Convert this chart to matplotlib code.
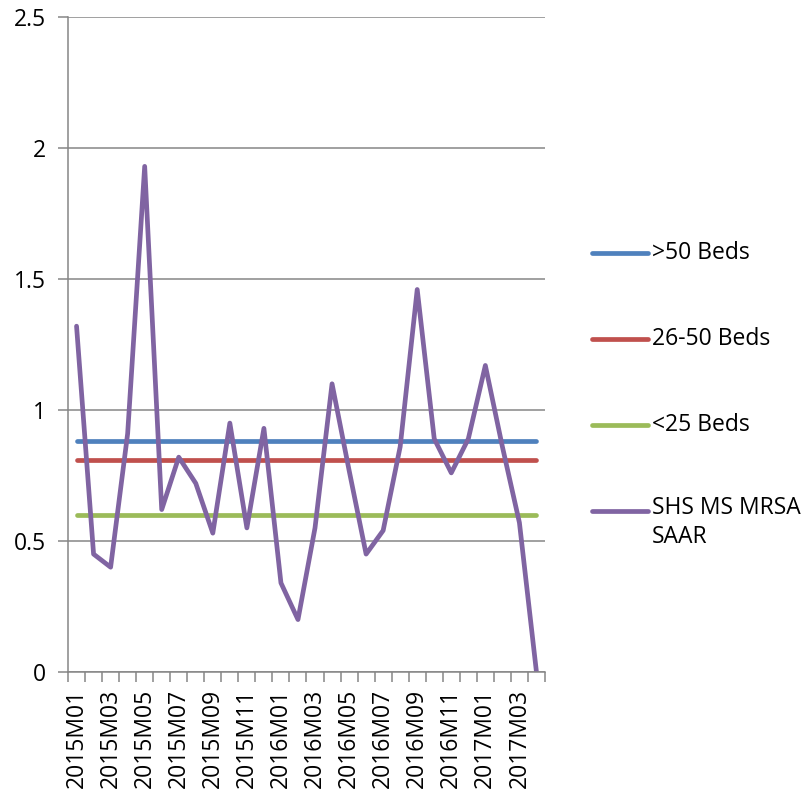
import matplotlib.pyplot as plt
from matplotlib.lines import Line2D
import numpy as np

plt.rcParams['font.family'] = ['Open Sans', 'DejaVu Sans']

# months 2015M01 .. 2017M04
months = ['2015M01', '2015M02', '2015M03', '2015M04', '2015M05', '2015M06', '2015M07',
          '2015M08', '2015M09', '2015M10', '2015M11', '2015M12', '2016M01', '2016M02',
          '2016M03', '2016M04', '2016M05', '2016M06', '2016M07', '2016M08', '2016M09',
          '2016M10', '2016M11', '2016M12', '2017M01', '2017M02', '2017M03', '2017M04']

# benchmark levels
gt50_beds = 0.88
b26_50_beds = 0.81
lt25_beds = 0.60

# SHS MS MRSA SAAR
saar = [1.32, 0.45, 0.40, 0.91, 1.93, 0.62, 0.82, 0.72, 0.53, 0.95, 0.55, 0.93, 0.34, 0.20,
        0.55, 1.10, 0.77, 0.45, 0.54, 0.86, 1.46, 0.89, 0.76, 0.89, 1.17, 0.86, 0.57, 0.0]

labels = ['>50 Beds', '26-50 Beds', '<25 Beds', 'SHS MS MRSA\nSAAR']
colors = ['#4F81BD', '#C0504D', '#9BBB59', '#8064A2']

x = np.arange(len(months))
grid_c = '#868686'

fig = plt.figure(figsize=(8.07, 7.96), dpi=100)
ax = fig.add_axes([0.0843, 0.1558, 0.591, 0.8228])

lw = 3.4
ax.plot(x, [gt50_beds] * len(x), color=colors[0], lw=lw, solid_capstyle='round')
ax.plot(x, [b26_50_beds] * len(x), color=colors[1], lw=lw, solid_capstyle='round')
ax.plot(x, [lt25_beds] * len(x), color=colors[2], lw=lw, solid_capstyle='round')
ax.plot(x, saar, color=colors[3], lw=lw, solid_capstyle='round', solid_joinstyle='round')

ax.set_xlim(-0.5, len(months) - 0.5)
ax.set_ylim(0, 2.5)
ax.set_yticks([0, 0.5, 1, 1.5, 2, 2.5])
ax.set_yticklabels(['0', '0.5', '1', '1.5', '2', '2.5'])
ax.yaxis.grid(True, color=grid_c, lw=1.1)
ax.set_axisbelow(True)

# category boundaries carry the tick marks, labels sit on every other month
ax.set_xticks(np.arange(len(months) + 1) - 0.5)
ax.set_xticklabels([])
ax.set_xticks(x[::2], minor=True)
ax.set_xticklabels(months[::2], minor=True, rotation=90)
ax.tick_params(axis='x', which='major', length=7, width=1.1, color=grid_c, direction='out')
ax.tick_params(axis='x', which='minor', length=0, pad=12, labelsize=16.5)
ax.tick_params(axis='y', length=7, width=1.1, color=grid_c, pad=9, labelsize=16.5)

for s in ['top', 'right']:
    ax.spines[s].set_visible(False)
for s in ['left', 'bottom']:
    ax.spines[s].set_color(grid_c)
    ax.spines[s].set_linewidth(1.1)

# legend on the right
leg_y = [0.682, 0.574, 0.466, 0.358]
for lab, c, yy in zip(labels, colors, leg_y):
    fig.add_artist(Line2D([0.7336, 0.803], [yy, yy], color=c, lw=lw,
                          solid_capstyle='round', transform=fig.transFigure))
    if '\n' in lab:
        fig.text(0.808, yy + 0.019, lab, fontsize=16.5, va='top', ha='left', linespacing=1.3)
    else:
        fig.text(0.808, yy, lab, fontsize=16.5, va='center', ha='left')

fig.savefig('out.png', dpi=100)
